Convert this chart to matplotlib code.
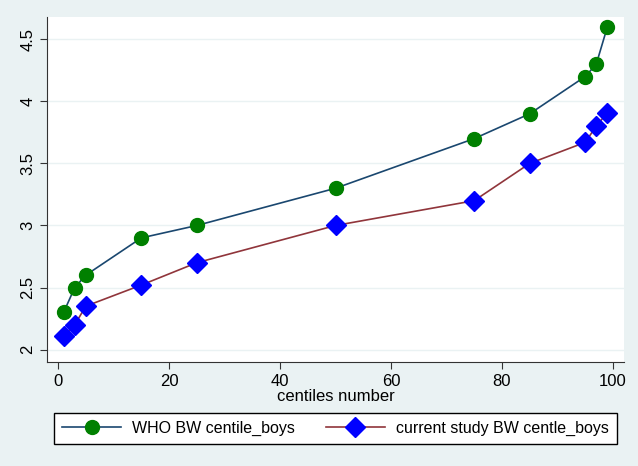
import matplotlib.pyplot as plt

plt.rcParams['font.family'] = ['Liberation Sans', 'DejaVu Sans']

# centiles and birth weight (kg)
centiles = [1, 3, 5, 15, 25, 50, 75, 85, 95, 97, 99]
who_bw = [2.3, 2.5, 2.6, 2.9, 3.0, 3.3, 3.7, 3.9, 4.2, 4.3, 4.6]
study_bw = [2.11, 2.2, 2.35, 2.52, 2.7, 3.0, 3.2, 3.5, 3.67, 3.8, 3.91]
xticks = [0, 20, 40, 60, 80, 100]
yticks = [2, 2.5, 3, 3.5, 4, 4.5]
ytick_labels = ['2', '2.5', '3', '3.5', '4', '4.5']

bg = '#eaf2f3'
fig = plt.figure(figsize=(6.38, 4.66), dpi=100, facecolor=bg)
ax = fig.add_axes([47 / 638, 1 - 362 / 466, (624 - 47) / 638, (362 - 17) / 466])
ax.set_facecolor('white')

ax.plot(centiles, who_bw, color='#1a476f', lw=1.2, marker='o', ms=10,
        mfc='#008000', mec='#008000', label='WHO BW centile_boys', zorder=3)
ax.plot(centiles, study_bw, color='#90353b', lw=1.2, marker='D', ms=10,
        mfc='#0000ff', mec='#0000ff', label='current study BW centle_boys', zorder=3)

ax.set_xlim(-2, 102)
ax.set_ylim(1.9, 4.68)
ax.set_xticks(xticks)
ax.set_yticks(yticks)
ax.set_yticklabels(ytick_labels, rotation=90, va='center')
ax.tick_params(labelsize=12, color='#333333', length=5)
ax.yaxis.grid(True, color=bg, lw=1)
ax.set_axisbelow(True)
for s in ['top', 'right']:
    ax.spines[s].set_visible(False)
for s in ['left', 'bottom']:
    ax.spines[s].set_color('#333333')
ax.set_xlabel('centiles number', fontsize=12, labelpad=0)

fig.legend(loc='center', bbox_to_anchor=(335.5 / 638, 1 - 428.5 / 466), ncol=2,
           fontsize=11.5, frameon=True, fancybox=False, edgecolor='black',
           handlelength=3.7, handletextpad=0.7, columnspacing=1.9,
           borderpad=0.5, borderaxespad=0, framealpha=1)

fig.savefig('out.png', dpi=100, facecolor=bg)
